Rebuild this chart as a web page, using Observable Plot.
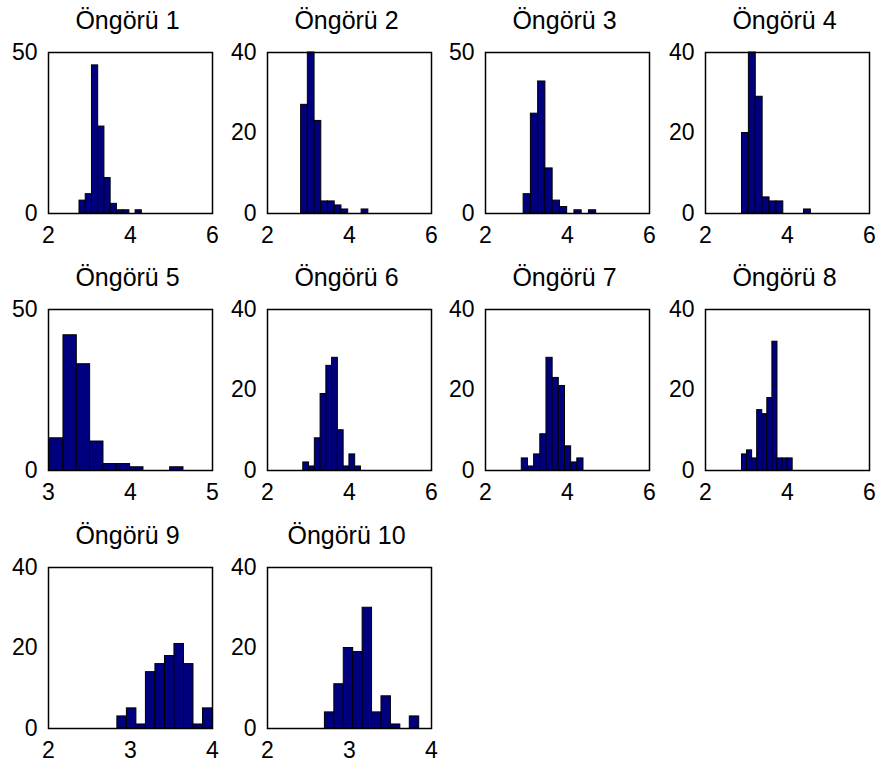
<!DOCTYPE html>
<html>
<head>
<meta charset="utf-8">
<script src="https://cdn.jsdelivr.net/npm/d3@7"></script>
<script src="https://cdn.jsdelivr.net/npm/@observablehq/plot@0.6"></script>
<style>
  body { margin: 0; background: #fff; }
  #wrap { position: relative; width: 878px; height: 769px; background: #fff; overflow: hidden; }
  .cell { position: absolute; }
</style>
</head>
<body>
<div id="wrap"></div>
<script>
// ---- data ----
const titles = ["Öngörü 1", "Öngörü 2", "Öngörü 3", "Öngörü 4", "Öngörü 5",
                "Öngörü 6", "Öngörü 7", "Öngörü 8", "Öngörü 9", "Öngörü 10"];

// counts per histogram bin (10 bins each)
const counts1  = [4, 6, 46, 27, 11, 3, 1, 1, 0, 1];
const counts2  = [27, 40, 23, 3, 3, 2, 1, 0, 0, 1];
const counts3  = [6, 31, 41, 14, 4, 2, 0, 1, 0, 1];
const counts4  = [20, 40, 29, 4, 3, 3, 0, 0, 0, 1];
const counts5  = [10, 42, 33, 9, 2, 2, 1, 0, 0, 1];
const counts6  = [2, 1, 8, 19, 26, 28, 10, 1, 4, 1];
const counts7  = [3, 1, 4, 9, 28, 23, 21, 6, 2, 3];
const counts8  = [4, 5, 3, 15, 14, 18, 32, 3, 3, 3];
const counts9  = [3, 5, 1, 14, 16, 18, 21, 16, 1, 5];
const counts10 = [4, 11, 20, 19, 30, 4, 8, 1, 0, 3];

// data range covered by the bins (min, max of each sample)
const binLo = [2.756, 2.82, 2.93, 2.89, 3.02, 2.873, 2.885, 2.89, 2.84, 2.70];
const binHi = [4.276, 4.46, 4.70, 4.57, 4.646, 4.279, 4.39, 4.126, 4.00, 3.85];

// axis domains and tick labels
const xDomains = [[2, 6], [2, 6], [2, 6], [2, 6], [3, 5], [2, 6], [2, 6], [2, 6], [2, 4], [2, 4]];
const yMaxes   = [50, 40, 50, 40, 50, 40, 40, 40, 40, 40];
const xTickSets = [[2, 4, 6], [2, 4, 6], [2, 4, 6], [2, 4, 6], [3, 4, 5],
                   [2, 4, 6], [2, 4, 6], [2, 4, 6], [2, 3, 4], [2, 3, 4]];
const yTickSets = [[0, 50], [0, 20, 40], [0, 50], [0, 20, 40], [0, 50],
                   [0, 20, 40], [0, 20, 40], [0, 20, 40], [0, 20, 40], [0, 20, 40]];

const allCounts = [counts1, counts2, counts3, counts4, counts5, counts6, counts7, counts8, counts9, counts10];

// ---- layout ----
const colLeft = [48, 267, 485, 705];
const rowTop = [52, 309, 567];
const mL = 48, mT = 52, mR = 8, mB = 40;
const innerW = 164, innerH = 161;

const wrap = document.getElementById("wrap");
const font = "'Liberation Sans', Arial, sans-serif";

titles.forEach((title, i) => {
  const counts = allCounts[i];
  const n = counts.length;
  const w = (binHi[i] - binLo[i]) / n;
  const bins = counts.map((c, k) => ({x1: binLo[i] + k * w, x2: binLo[i] + (k + 1) * w, y1: 0, y2: c}));

  const chart = Plot.plot({
    width: mL + innerW + mR,
    height: mT + innerH + mB,
    marginLeft: mL, marginTop: mT, marginRight: mR, marginBottom: mB,
    style: {background: "transparent", fontFamily: font, fontSize: "23px", color: "black", overflow: "visible"},
    x: {domain: xDomains[i], label: null},
    y: {domain: [0, yMaxes[i]], label: null},
    marks: [
      Plot.rect(bins, {x1: "x1", x2: "x2", y1: "y1", y2: "y2", fill: "#00007f", stroke: "black", strokeWidth: 1, inset: 0}),
      Plot.frame({stroke: "black", strokeWidth: 1.5}),
      Plot.axisX({ticks: xTickSets[i], tickFormat: d => String(d), tickSize: 0, tickPadding: 13, label: null, fontSize: 23}),
      Plot.axisY({ticks: yTickSets[i], tickFormat: d => String(d), tickSize: 0, tickPadding: 11, label: null, fontSize: 23}),
      Plot.text([title], {text: d => d, frameAnchor: "top", lineAnchor: "bottom", dy: -24, dx: -3, fontSize: 25, fill: "black"})
    ]
  });

  const col = i % 4, row = Math.floor(i / 4);
  const cell = document.createElement("div");
  cell.className = "cell";
  cell.style.left = (colLeft[col] - mL) + "px";
  cell.style.top = (rowTop[row] - mT) + "px";
  cell.appendChild(chart);
  wrap.appendChild(cell);
});
</script>
</body>
</html>
